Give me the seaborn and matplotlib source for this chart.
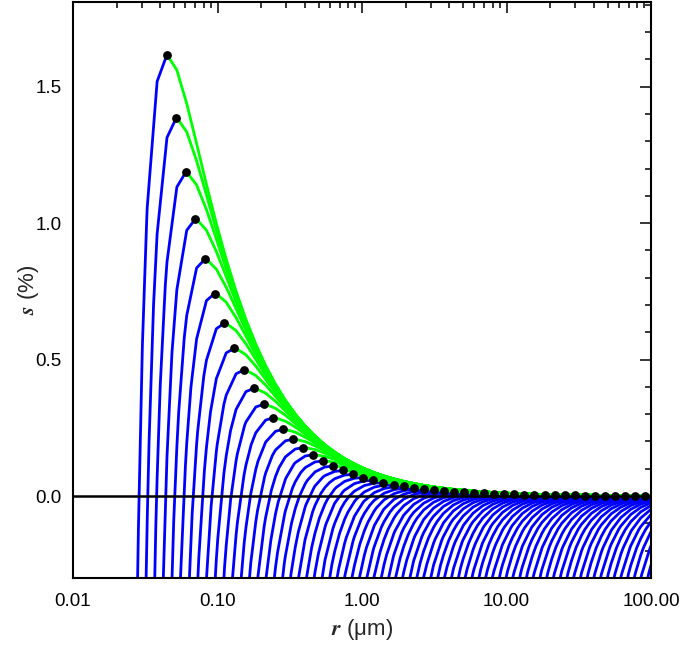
import numpy as np
import pandas as pd
import matplotlib
matplotlib.use("Agg")
import matplotlib.pyplot as plt
import seaborn as sns
from matplotlib.ticker import FixedLocator, FixedFormatter, LogLocator, MultipleLocator, NullFormatter

# ------------------------------------------------------------------
# Kohler curves: s(r) = A/r - B*rd^3/(r^3 - rd^3)   (s in %, r in um)
# ------------------------------------------------------------------
A_KELVIN = 0.1041   # % um, curvature term
B_SOLUTE = 7.86     # %, solute term
# dry radii (um) of the curves, estimated from where each curve starts
R_DRY = [0.01950, 0.02170, 0.02415, 0.02688, 0.02992, 0.03330, 0.03707, 0.04125, 0.04592, 0.05110,
         0.05689, 0.06331, 0.07047, 0.07843, 0.08730, 0.09716, 0.1081, 0.1203, 0.1340, 0.1491,
         0.1660, 0.1847, 0.2056, 0.2288, 0.2547, 0.2835, 0.3155, 0.3512, 0.3908, 0.4350,
         0.4842, 0.5389, 0.5998, 0.6676, 0.7430, 0.8270, 0.9204, 1.024, 1.140, 1.269,
         1.413, 1.572, 1.750, 1.948, 2.168, 2.413, 2.685, 2.989, 3.327, 3.703,
         4.121, 4.587, 5.105, 5.682, 6.324, 7.039, 7.834, 8.718, 9.705, 10.80,
         12.02, 13.38, 14.89, 16.58, 18.45, 20.54, 22.86, 25.44, 28.31, 31.51]

X_TICKS = [0.01, 0.1, 1.0, 10.0, 100.0]
X_TICK_LABELS = ["0.01", "0.10", "1.00", "10.00", "100.00"]
Y_TICKS = [0.0, 0.5, 1.0, 1.5]
Y_TICK_LABELS = ["0.0", "0.5", "1.0", "1.5"]

Y_MIN, Y_MAX = -0.3, 1.81
STEP = 0.0683  # sampling step of the curves (decades)


def kohler(r, rd):
    return A_KELVIN / r - B_SOLUTE * rd ** 3 / (r ** 3 - rd ** 3)


sns.set_theme(style="white")
plt.rcParams["font.family"] = ["Liberation Sans", "DejaVu Sans"]
plt.rcParams["mathtext.fontset"] = "stix"

grid = 10 ** (np.log10(0.0447) + STEP * np.arange(-12, 62))
frames = []
r_crit, s_crit = [], []
for k, rd in enumerate(R_DRY):
    # critical point = maximum of the curve
    dense = rd * np.geomspace(1.0001, 1e4, 20000)
    i = np.argmax(kohler(dense, rd))
    rc, sc = dense[i], kohler(dense[i], rd)
    r_crit.append(rc)
    s_crit.append(sc)

    fine = rd * (1 + np.geomspace(1e-6, 3, 80))
    fine = fine[fine < 0.75 * rc]
    r = np.unique(np.concatenate([grid[grid > rd], fine, [rc]]))
    s = np.maximum(kohler(r, rd), -5)
    up = r <= rc
    frames.append(pd.DataFrame({"r": r[up], "s": s[up], "curve": k, "branch": "blue"}))
    dn = r >= rc
    frames.append(pd.DataFrame({"r": r[dn], "s": s[dn], "curve": k, "branch": "green"}))
df = pd.concat(frames, ignore_index=True)

fig = plt.figure(figsize=(6.85, 6.46), dpi=100)
ax = fig.add_axes([0.1066, 0.1053, 0.8438, 0.8916])

sns.lineplot(data=df, x="r", y="s", hue="branch", units="curve", estimator=None, sort=False,
             hue_order=["blue", "green"], palette={"blue": "#0000ff", "green": "#00ff00"},
             linewidth=2, legend=False, ax=ax)
ax.axhline(0, color="black", lw=1.8, zorder=3)
sns.scatterplot(x=r_crit, y=s_crit, color="black", s=40, linewidth=0, zorder=5, ax=ax)

ax.set_xscale("log")
ax.set_xlim(0.01, 100)
ax.set_ylim(Y_MIN, Y_MAX)

ax.xaxis.set_major_locator(FixedLocator(X_TICKS))
ax.xaxis.set_major_formatter(FixedFormatter(X_TICK_LABELS))
ax.xaxis.set_minor_locator(LogLocator(base=10, subs=np.arange(2, 10)))
ax.xaxis.set_minor_formatter(NullFormatter())
ax.yaxis.set_major_locator(FixedLocator(Y_TICKS))
ax.yaxis.set_major_formatter(FixedFormatter(Y_TICK_LABELS))
ax.yaxis.set_minor_locator(MultipleLocator(0.1))

ax.tick_params(which="both", direction="in", top=True, right=True, width=1.1,
               colors="black", labelsize=13.5)
ax.tick_params(axis="x", pad=11)
ax.tick_params(axis="y", pad=8)
ax.tick_params(which="major", length=8)
ax.tick_params(which="minor", length=4)
for sp in ax.spines.values():
    sp.set_linewidth(1.5)
    sp.set_color("black")

ax.set_xlabel(r"$\mathbfit{r}$ (μm)", fontsize=16, labelpad=5)
ax.set_ylabel(r"$\mathbfit{s}$ (%)", fontsize=16, labelpad=-4)

fig.savefig("out.png", dpi=100)
